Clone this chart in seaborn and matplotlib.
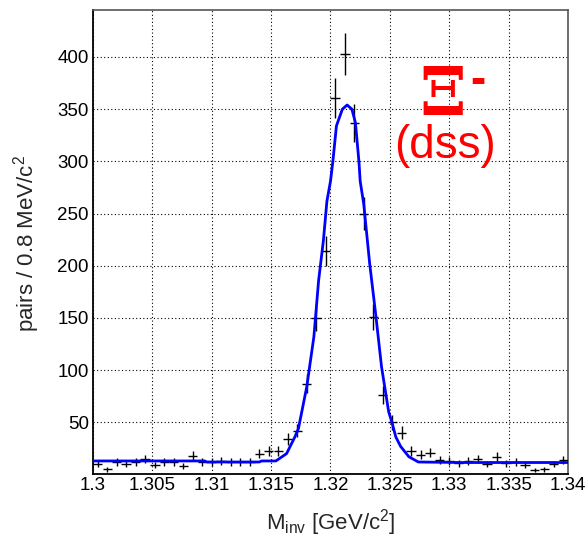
import numpy as np
import pandas as pd
import matplotlib
matplotlib.use("Agg")
import matplotlib.pyplot as plt
import seaborn as sns
from matplotlib.ticker import MultipleLocator, FixedLocator

# ---- data ----
bin_low = 1.30
bin_width = 0.0008
counts = [10, 5, 12, 10, 12, 15, 9, 12, 12, 8,
          18, 12, 12, 13, 12, 12, 12, 20, 23, 23,
          34, 42, 87, 150, 214, 361, 403, 337, 250, 151,
          76, 50, 40, 23, 19, 21, 14, 13, 11, 13,
          15, 10, 17, 11, 12, 9, 4, 5, 10, 14]

fit_x = [1.3000, 1.3094, 1.3096, 1.3140, 1.3142, 1.3154, 1.3163, 1.3170,
         1.3173, 1.3180, 1.3186, 1.3190, 1.3194, 1.3197, 1.3200, 1.3202,
         1.3205, 1.3210, 1.3214, 1.3218, 1.3221, 1.3224, 1.3225, 1.3228,
         1.3233, 1.3238, 1.3243, 1.3249, 1.3252, 1.3255, 1.3259, 1.3266,
         1.3274, 1.3310, 1.3400]
fit_y = [13, 13, 12, 12, 13, 13, 20, 36,
         44, 84, 132, 186, 224, 262, 281, 300,
         334, 350, 354, 350, 337, 299, 281, 259,
         202, 154, 103, 60, 49, 36, 27, 17,
         12, 11.5, 11.5]

x_ticks = [1.30, 1.305, 1.31, 1.315, 1.32, 1.325, 1.33, 1.335, 1.34]
x_tick_labels = ["1.3", "1.305", "1.31", "1.315", "1.32", "1.325", "1.33", "1.335", "1.34"]
y_ticks = [50, 100, 150, 200, 250, 300, 350, 400]

# ---- style ----
sns.set_style("white")
plt.rcParams["font.family"] = ["Liberation Sans", "DejaVu Sans"]
plt.rcParams["mathtext.fontset"] = "custom"
plt.rcParams["mathtext.rm"] = "Liberation Sans"
plt.rcParams["mathtext.it"] = "Liberation Sans:italic"
plt.rcParams["mathtext.bf"] = "Liberation Sans:bold"

counts_arr = np.array(counts, dtype=float)
centers = bin_low + bin_width * (np.arange(len(counts)) + 0.5)
df = pd.DataFrame({"m": centers, "n": counts_arr})
fit_df = pd.DataFrame({"m": fit_x, "n": fit_y})

fig = plt.figure(figsize=(5.85, 5.40), dpi=100)
ax = fig.add_axes([93 / 585, 66 / 540, 475 / 585, 464 / 540])

ax.errorbar(df["m"], df["n"], xerr=bin_width / 2, yerr=np.sqrt(df["n"]),
            fmt="none", ecolor="black", elinewidth=1.0, capsize=0, zorder=3)
sns.lineplot(data=fit_df, x="m", y="n", ax=ax, color="#0000ff", lw=2.0,
             zorder=4, estimator=None, sort=False)

ax.set_xlim(1.30, 1.34)
ax.set_ylim(0.5, 445)

ax.xaxis.set_major_locator(FixedLocator(x_ticks))
ax.set_xticklabels(x_tick_labels)
ax.xaxis.set_minor_locator(MultipleLocator(0.001))
ax.yaxis.set_major_locator(FixedLocator(y_ticks))
ax.yaxis.set_minor_locator(MultipleLocator(10))

ax.tick_params(axis="both", which="both", direction="in", top=False, right=False,
               colors="black", labelsize=13.5)
ax.tick_params(axis="y", which="major", length=12, width=1.2, pad=3)
ax.tick_params(axis="y", which="minor", length=6.5, width=1.0)
ax.tick_params(axis="x", which="major", length=10, width=1.2, pad=2)
ax.tick_params(axis="x", which="minor", length=5, width=1.0)

ax.grid(True, which="major", color="black", linestyle=(0, (1, 2.2)), lw=0.8)
for side in ["left", "bottom"]:
    ax.spines[side].set_color("black")
    ax.spines[side].set_linewidth(1.3)
for side in ["top", "right"]:
    ax.spines[side].set_color("#555555")
    ax.spines[side].set_linewidth(1.2)

ax.set_xlabel("")
ax.set_ylabel("")
fig.text(0.046, 0.55, r"pairs / 0.8 MeV/c$^{2}$", rotation=90, ha="center",
         va="center", fontsize=16)
fig.text(0.566, 0.020, r"M$_{\rm inv}$ [GeV/c$^{2}$]", ha="center",
         va="baseline", fontsize=16)

ax.text(0.688, 0.774, "Ξ", transform=ax.transAxes, ha="left", va="baseline",
        fontsize=48, color="red", fontweight="bold",
        family=["DejaVu Serif", "Liberation Serif"])
ax.text(0.794, 0.821, "-", transform=ax.transAxes, ha="left", va="baseline",
        fontsize=33, color="red", fontweight="bold")
ax.text(0.633, 0.680, "(dss)", transform=ax.transAxes, ha="left", va="baseline",
        fontsize=33, color="red")

fig.savefig("out.png", dpi=100, facecolor="white")
